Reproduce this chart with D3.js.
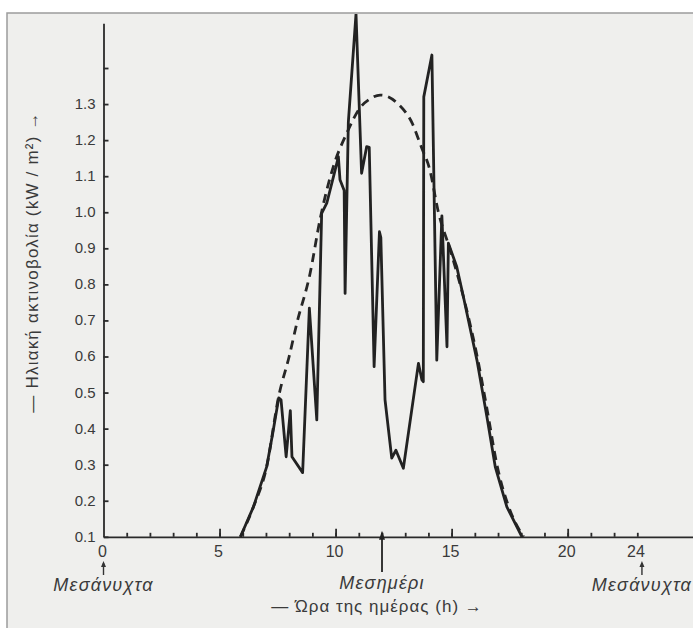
<!DOCTYPE html>
<html>
<head>
<meta charset="utf-8">
<script src="https://cdn.jsdelivr.net/npm/d3@7"></script>
<style>
  html, body { margin: 0; padding: 0; background: #fff; }
  #chart { width: 693px; height: 628px; }
  text { font-family: "Liberation Sans", Arial, sans-serif; fill: #3a3a3a; }
  .axis path, .axis line { stroke: #2a2a2a; stroke-width: 1.8; }
</style>
</head>
<body>
<div id="chart"></div>
<script>
// measured irradiance over one day (hour, kW/m2)
const hours = [5.9, 6.46, 7.03, 7.3, 7.55, 7.65, 7.87, 8.05, 8.12, 8.58, 8.87, 9.19, 9.4, 9.62,
  9.98, 10.12, 10.19, 10.37, 10.41, 10.55, 10.88, 11.12, 11.34, 11.45, 11.66, 11.89, 11.95,
  12.13, 12.42, 12.6, 12.92, 13.57, 13.72, 13.78, 13.8, 14.15, 14.36, 14.58, 14.8, 14.86,
  15.22, 15.51, 16.09, 16.52, 16.88, 17.38, 18.03];
const irradiance = [0.1, 0.183, 0.294, 0.39, 0.485, 0.48, 0.322, 0.45, 0.322, 0.278, 0.734, 0.424, 0.997, 1.025,
  1.117, 1.154, 1.09, 1.06, 0.775, 1.25, 1.55, 1.108, 1.182, 1.18, 0.572, 0.946, 0.93,
  0.48, 0.318, 0.34, 0.29, 0.581, 0.535, 0.53, 1.32, 1.436, 0.59, 0.99, 0.627, 0.914,
  0.849, 0.765, 0.59, 0.433, 0.294, 0.183, 0.1];

// clear-sky envelope (dashed)
const clearHours = [5.9, 6.46, 7.03, 7.55, 8.0, 8.33, 8.9, 9.33, 9.9, 10.48, 11.06, 11.5, 11.92, 12.2,
  12.7, 13.3, 13.7, 14.05, 14.43, 14.94, 15.51, 16.1, 16.55, 16.95, 17.45, 18.1];
const clearSky = [0.1, 0.183, 0.294, 0.49, 0.6, 0.692, 0.83, 0.98, 1.126, 1.219, 1.29, 1.315, 1.325, 1.322,
  1.3, 1.247, 1.18, 1.12, 1.0, 0.895, 0.765, 0.6, 0.445, 0.3, 0.185, 0.1];

const yTicks = [0.1, 0.2, 0.3, 0.4, 0.5, 0.6, 0.7, 0.8, 0.9, 1.0, 1.1, 1.2, 1.3, 1.4];
const xMinorTicks = d3.range(1, 24);
const xMajorTicks = [5, 10, 15, 20];
const xLabels = [0, 5, 10, 15, 20];
const midnightMarks = [{ h: 0, tick: "" }, { h: 23.2, tick: "24" }];
const noonMark = 12;
const midnightText = "Μεσάνυχτα";
const noonText = "Μεσημέρι";
const xTitle = "— Ώρα της ημέρας (h) →";
const yTitle = "— Ηλιακή ακτινοβολία (kW / m²) →";

const W = 693, H = 628;
const svg = d3.select("#chart").append("svg").attr("width", W).attr("height", H);

// scanned page frame
svg.append("rect").attr("x", 7).attr("y", 13).attr("width", W).attr("height", H)
  .attr("fill", "#efefed").attr("stroke", "#9c9c9c").attr("stroke-width", 1.5);

svg.append("clipPath").attr("id", "frame")
  .append("rect").attr("x", 7).attr("y", 14).attr("width", W).attr("height", H);

const x = d3.scaleLinear().domain([0, 25.4]).range([103.5, 693]);
const y = d3.scaleLinear().domain([0.1, 1.524]).range([536.8, 23.3]);

// y axis, ticks pointing inward
svg.append("g").attr("class", "axis")
  .attr("transform", `translate(${x(0)},0)`)
  .call(d3.axisLeft(y).tickValues(yTicks).tickSizeInner(-5).tickSizeOuter(0).tickPadding(8)
    .tickFormat(d => d > 1.35 ? "" : d3.format(".1f")(d)))
  .call(g => g.selectAll("text").attr("font-size", 15).attr("fill", "#3a3a3a").attr("dy", "0.3em"));

// x axis minor ticks
svg.append("g").attr("class", "axis")
  .attr("transform", `translate(0,${y(0.1)})`)
  .call(d3.axisBottom(x).tickValues(xMinorTicks).tickSizeInner(-4).tickSizeOuter(0).tickFormat(""));

// x axis major ticks
svg.append("g").attr("class", "axis")
  .attr("transform", `translate(0,${y(0.1)})`)
  .call(d3.axisBottom(x).tickValues(xMajorTicks).tickSizeInner(-8).tickSizeOuter(0).tickFormat(""))
  .call(g => g.select(".domain").remove());

svg.selectAll(".xlab").data(xLabels).enter().append("text")
  .attr("class", "xlab")
  .attr("x", d => x(d) - 1).attr("y", 557)
  .attr("text-anchor", "middle").attr("font-size", 16)
  .text(d => d);

// midnight markers
const mid = svg.selectAll(".mid").data(midnightMarks).enter().append("g").attr("class", "mid");
mid.append("text").attr("x", d => x(d.h) - 6).attr("y", 557)
  .attr("text-anchor", "middle").attr("font-size", 16)
  .text(d => d.tick);
mid.append("line").attr("x1", d => x(d.h)).attr("x2", d => x(d.h))
  .attr("y1", 563).attr("y2", 575).attr("stroke", "#333").attr("stroke-width", 1.4);
mid.append("path").attr("d", d => `M${x(d.h)},561 l-2.5,6 h5 z`).attr("fill", "#333");
mid.append("text").attr("x", d => x(d.h)).attr("y", 591)
  .attr("text-anchor", "middle").attr("font-size", 18).attr("font-style", "italic")
  .attr("letter-spacing", 1.2).text(midnightText);

// noon marker
svg.append("line").attr("x1", x(noonMark)).attr("x2", x(noonMark))
  .attr("y1", y(0.1) - 4).attr("y2", 572).attr("stroke", "#222").attr("stroke-width", 1.8);
svg.append("path").attr("d", `M${x(noonMark)},${y(0.1) - 6} l-3,9 h6 z`).attr("fill", "#222");
svg.append("text").attr("x", x(noonMark)).attr("y", 589)
  .attr("text-anchor", "middle").attr("font-size", 18).attr("font-style", "italic")
  .attr("letter-spacing", 1.2).text(noonText);

// axis titles
svg.append("text").attr("x", 377).attr("y", 612)
  .attr("text-anchor", "middle").attr("font-size", 17).attr("letter-spacing", 1)
  .text(xTitle);
svg.append("text").attr("transform", "translate(38,262) rotate(-90)")
  .attr("text-anchor", "middle").attr("font-size", 17).attr("letter-spacing", 1.2)
  .text(yTitle);

const plot = svg.append("g").attr("clip-path", "url(#frame)");

// clear-sky dashed curve
const clearLine = d3.line().x(d => x(d[0])).y(d => y(d[1])).curve(d3.curveMonotoneX);
plot.append("path")
  .datum(d3.zip(clearHours, clearSky))
  .attr("d", clearLine)
  .attr("fill", "none").attr("stroke", "#262626").attr("stroke-width", 2.8)
  .attr("stroke-dasharray", "9,6");

// measured curve
const measLine = d3.line().x(d => x(d[0])).y(d => y(d[1]));
plot.append("path")
  .datum(d3.zip(hours, irradiance))
  .attr("d", measLine)
  .attr("fill", "none").attr("stroke", "#222").attr("stroke-width", 2.8)
  .attr("stroke-linejoin", "round");
</script>
</body>
</html>
